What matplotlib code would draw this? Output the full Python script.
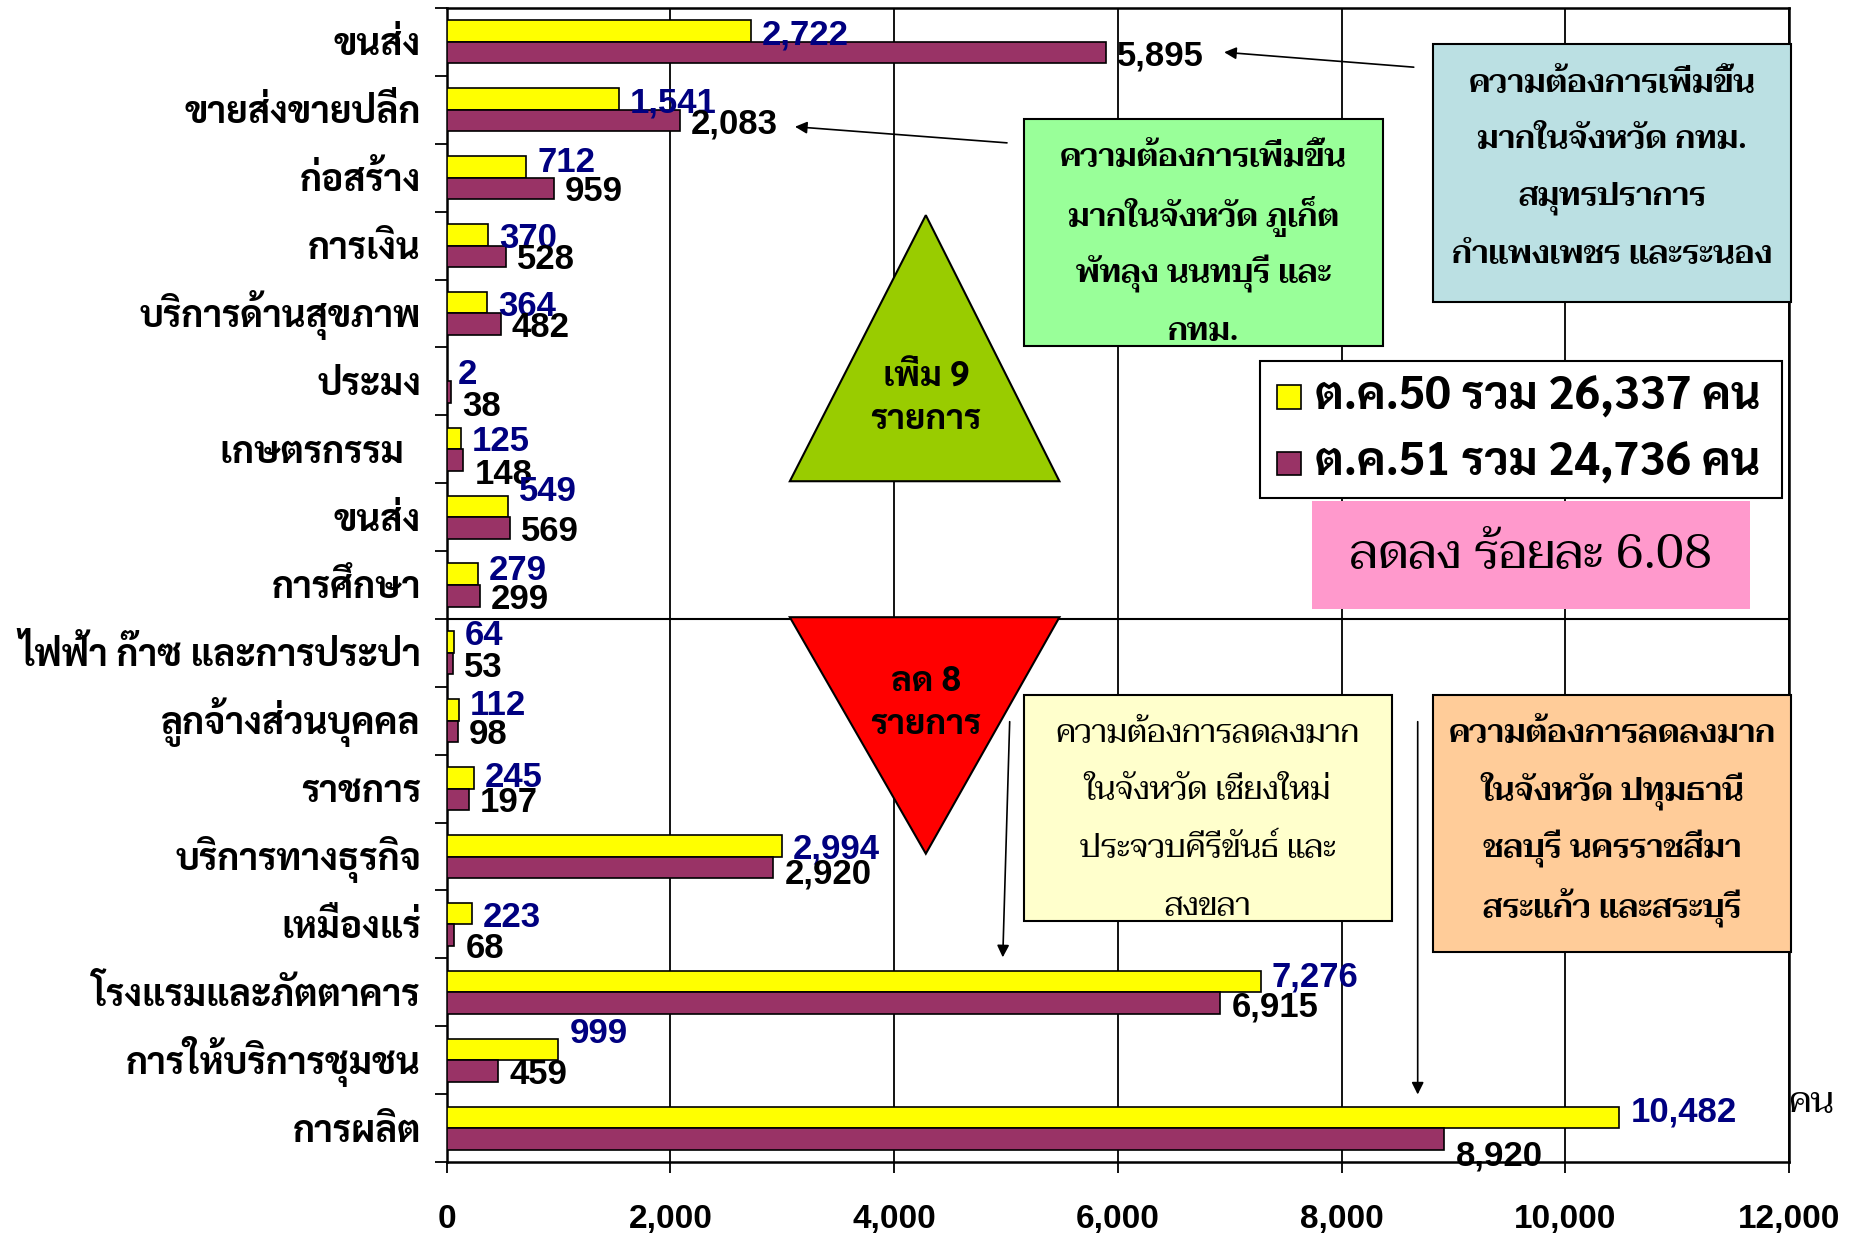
import matplotlib
matplotlib.use("Agg")
import matplotlib.pyplot as plt
from matplotlib import font_manager
from matplotlib.ft2font import FT2Font
from matplotlib.patches import Polygon, Rectangle
import numpy as np

# ---------------- data ----------------
categories = ["ขนส่ง", "ขายส่งขายปลีก", "ก่อสร้าง", "การเงิน", "บริการด้านสุขภาพ",
              "ประมง", "เกษตรกรรม  ", "ขนส่ง", "การศึกษา", "ไฟฟ้า ก๊าซ และการประปา",
              "ลูกจ้างส่วนบุคคล", "ราชการ", "บริการทางธุรกิจ", "เหมืองแร่",
              "โรงแรมและภัตตาคาร", "การให้บริการชุมชน", "การผลิต"]
oct50 = [2722, 1541, 712, 370, 364, 2, 125, 549, 279, 64, 112, 245, 2994, 223, 7276, 999, 10482]
oct51 = [5895, 2083, 959, 528, 482, 38, 148, 569, 299, 53, 98, 197, 2920, 68, 6915, 459, 8920]
legend_labels = ["ต.ค.50 รวม 26,337 คน", "ต.ค.51 รวม 24,736 คน"]
xticks = [0, 2000, 4000, 6000, 8000, 10000, 12000]

# label nudges (points; styling only)
nudge50 = [0, 0, 6, 0, 0, 0, 0, 13, 5, 7, 6, 3, 0, 0, 6, 14, 6]
nudge51 = [0, 0, 0, 0, 0, -8, -8, 0, 0, 0, 0, 0, -2, -7, 0, 0, -10]

# ---------------- fonts ----------------
thai = {}
for f in font_manager.fontManager.ttflist:
    try:
        if 0x0E01 in FT2Font(f.fname).get_charmap():
            thai.setdefault(f.name, set()).add(f.weight)
    except Exception:
        pass


def pick(prefs):
    for p in prefs:
        if p in thai:
            return p
    return sorted(thai)[0] if thai else "DejaVu Sans"


bold_thai = pick(["Sarabun", "Noto Sans Thai Looped", "Niramit", "K2D", "Krub", "KoHo",
                  "Bai Jamjuree", "Chakra Petch"])
serif_thai = pick(["Taviraj", "Noto Serif Thai", "Trirong", "Maitree", "Pridi", "Sarabun"])
FB = [bold_thai, "Liberation Sans", "DejaVu Sans"]
FS = [serif_thai, "Liberation Serif", "DejaVu Sans"]
plt.rcParams['font.family'] = FB

W, H = 1854, 1233
fig = plt.figure(figsize=(W / 100, H / 100), dpi=100)
L, R, T, B = 446.6, 1789.0, 8.0, 1162.0
ax = fig.add_axes([L / W, 1 - B / H, (R - L) / W, (B - T) / H])

n = len(categories)
y = np.arange(n)
bh = 0.317
ax.barh(y - bh / 2, oct50, height=bh, color="#FFFF00", edgecolor="black", linewidth=1.2, zorder=3)
ax.barh(y + bh / 2, oct51, height=bh, color="#993366", edgecolor="black", linewidth=1.2, zorder=3)

ax.set_xlim(0, 12000)
ax.set_ylim(n - 0.5, -0.5)
ax.set_xticks(xticks)
ax.set_xticklabels([f"{v:,}" for v in xticks], fontfamily=["Liberation Sans", "DejaVu Sans"],
                   fontweight="bold", fontsize=24)
ax.grid(axis="x", color="black", linewidth=1.3, zorder=1)
ax.tick_params(axis="x", length=8, width=1.3, pad=22)
ax.set_yticks(np.arange(n + 1) - 0.5, minor=False)
ax.set_yticklabels([])
ax.tick_params(axis="y", length=9, width=1.3)
for i, c in enumerate(categories):
    ax.annotate(c, (0, i), xytext=(-18.5, -9.7), textcoords="offset points",
                ha="right", va="baseline", fontsize=26.5, fontweight="bold", family=FB,
                annotation_clip=False)
for s in ax.spines.values():
    s.set_linewidth(1.8)
ax.axhline(8.5, color="black", linewidth=1.5, zorder=2)

vfont = ["Liberation Sans", "DejaVu Sans"]
for i in range(n):
    ax.annotate(f"{oct50[i]:,}", (oct50[i], i - bh / 2), xytext=(8, nudge50[i] - 2.5),
                textcoords="offset points", ha="left", va="center", color="#000080",
                fontsize=25, fontweight="bold", family=vfont, zorder=5)
    ax.annotate(f"{oct51[i]:,}", (oct51[i], i + bh / 2), xytext=(8, nudge51[i] - 2.5),
                textcoords="offset points", ha="left", va="center", color="black",
                fontsize=25, fontweight="bold", family=vfont, zorder=5)


def S(xs, ys):
    return ((xs * 1.1824 - L) / (R - L), 1 - (ys * 1.1824 - T) / (B - T))


tr = ax.transAxes
ax.add_patch(Polygon([S(783, 182), S(668, 407), S(896, 407)], closed=True, transform=tr,
                     facecolor="#99CC00", edgecolor="black", linewidth=1.5, zorder=6))
ax.add_patch(Polygon([S(668, 522), S(896, 522), S(783, 722)], closed=True, transform=tr,
                     facecolor="#FF0000", edgecolor="black", linewidth=1.5, zorder=6))
for txt, yy in [("เพิ่ม 9", 319), ("รายการ", 355), ("ลด 8", 577), ("รายการ", 613)]:
    ax.text(*S(783, yy), txt, transform=tr, ha="center", va="center",
            fontsize=25, fontweight="bold", zorder=7, family=FB)


def box(x0, y0, x1, y1, fc, lines, ys, ec="black", fs=23, weight="normal"):
    p0 = S(x0, y1)
    p1 = S(x1, y0)
    ax.add_patch(Rectangle(p0, p1[0] - p0[0], p1[1] - p0[1], transform=tr, facecolor=fc,
                           edgecolor=ec, linewidth=1.5 if ec != "none" else 0, zorder=6,
                           clip_on=False))
    xc = (x0 + x1) / 2
    for ln, yy in zip(lines, ys):
        ax.text(*S(xc, yy), ln, transform=tr, ha="center", va="center", fontsize=fs,
                fontweight=weight, zorder=7, clip_on=False, family=FS)


box(866, 101, 1170, 293, "#99FF99",
    ["ความต้องการเพิ่มขึ้น", "มากในจังหวัด ภูเก็ต", "พัทลุง นนทบุรี และ", "กทม."],
    [134, 183, 232, 281], weight=600)
box(1212, 37, 1515, 255, "#BBE0E3",
    ["ความต้องการเพิ่มขึ้น", "มากในจังหวัด กทม.", "สมุทรปราการ", "กำแพงเพชร และระนอง"],
    [71, 119, 168, 216], weight=600)
box(866, 588, 1177, 779, "#FFFFCC",
    ["ความต้องการลดลงมาก", "ในจังหวัด เชียงใหม่", "ประจวบคีรีขันธ์ และ", "สงขลา"],
    [621, 669, 718, 767])
box(1212, 588, 1515, 805, "#FFCC99",
    ["ความต้องการลดลงมาก", "ในจังหวัด ปทุมธานี", "ชลบุรี นครราชสีมา", "สระแก้ว และสระบุรี"],
    [621, 669, 718, 767], weight=600)
box(1110, 424, 1480, 515, "#FF99CC", ["ลดลง ร้อยละ 6.08"], [470], ec="none", fs=35)

# legend box
p0 = S(1066, 421); p1 = S(1507, 305)
ax.add_patch(Rectangle(p0, p1[0] - p0[0], p1[1] - p0[1], transform=tr, facecolor="white",
                       edgecolor="black", linewidth=1.5, zorder=6))
for (yy, col, lab) in [(336, "#FFFF00", legend_labels[0]), (392, "#993366", legend_labels[1])]:
    q0 = S(1080, yy + 10); q1 = S(1100, yy - 10)
    ax.add_patch(Rectangle(q0, q1[0] - q0[0], q1[1] - q0[1], transform=tr, facecolor=col,
                           edgecolor="black", linewidth=1.2, zorder=7))
    ax.text(*S(1112, yy), lab, transform=tr, ha="left", va="center", fontsize=33,
            fontweight="bold", zorder=7, family=FB)

# arrows
arrows = [((1198, 57), (1033, 44)), ((854, 121), (670, 107)),
          ((854, 608), (848, 812)), ((1199, 608), (1199, 928))]
for (a, b) in arrows:
    ax.annotate("", xy=S(*b), xytext=S(*a), xycoords=tr, textcoords=tr,
                arrowprops=dict(arrowstyle="-|>", color="black", lw=1.2, mutation_scale=18),
                zorder=8)

ax.text(*S(1512, 933), "คน", transform=tr, ha="left", va="center", fontsize=26, clip_on=False,
        family=FS)

fig.savefig("out.png", dpi=100)
